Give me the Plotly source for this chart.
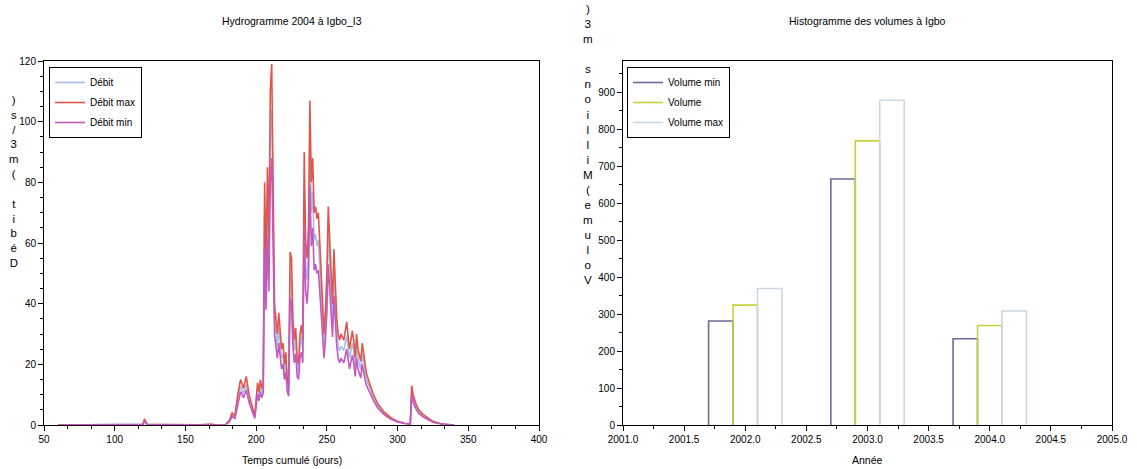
import plotly.graph_objects as go

# ---------------- Data: hydrograph 2004 at Igbo_I3 ----------------
days = [60, 100, 118, 120, 121, 123, 140, 160, 168, 170, 172, 178, 181, 183, 185, 187, 189, 191, 193, 195,
        197, 199, 201, 202, 203, 204, 205, 206, 207, 208, 209, 210, 211, 212, 213, 214, 215, 216, 217, 218,
        219, 220, 221, 222, 223, 224, 225, 226, 227, 228, 229, 230, 231, 232, 233, 234, 235, 236, 237, 238,
        239, 240, 241, 242, 243, 244, 245, 246, 247, 248, 249, 250, 251, 252, 253, 254, 255, 256, 257, 258,
        259, 260, 262, 264, 265, 266, 268, 269, 270, 271, 272, 274, 275, 276, 277, 278, 280, 283, 286, 290,
        295, 300, 305, 309, 310, 311, 313, 315, 318, 321, 325, 330, 335, 340]

debit_max = [0, 0, 0, 0.3, 2.0, 0.2, 0.1, 0.1, 0.3, 0.1, 0, 0, 1.5, 4, 3, 10, 15, 12, 16, 10,
             6, 3, 14, 11, 15, 12, 14, 80, 52, 85, 60, 110, 119, 75, 40, 35, 30, 37, 32, 25,
             27, 20, 24, 15, 13, 57, 55, 35, 28, 32, 22, 20, 30, 33, 28, 90, 60, 55, 65, 107,
             80, 88, 70, 72, 68, 70, 60, 50, 40, 30, 38, 50, 72, 62, 48, 40, 58, 45, 35, 30,
             28, 30, 28, 34, 30, 25, 31, 28, 22, 30, 25, 21, 27, 23, 20, 17, 14, 10, 7, 4.5,
             2.5, 1.2, 0.6, 0.3, 13, 10, 7, 5, 3.5, 2.5, 1.2, 0.5, 0.1, 0]

debit = [0, 0, 0, 0.2, 1.6, 0.2, 0.1, 0.1, 0.2, 0.1, 0, 0, 1.2, 3.4, 2.6, 8.5, 12.8, 10.4, 13.5, 8.6,
         5.2, 2.6, 12, 9.5, 12.8, 10.4, 12, 70, 45, 74, 52, 96, 104, 65, 35, 30.5, 26, 32, 28, 22,
         23.5, 17.5, 21, 13, 11.3, 50, 48, 30.5, 24.5, 28, 19, 17.5, 26, 29, 24.5, 78, 52, 48, 57, 93,
         70, 77, 61, 63, 59, 61, 52, 43.5, 35, 26, 33, 43.5, 63, 54, 42, 35, 50.5, 39, 30.5, 26,
         24.5, 26, 24.5, 29.5, 26, 22, 27, 24.5, 19, 26, 22, 18.3, 23.5, 20, 17.5, 15, 12.5, 9, 6.3, 4,
         2.2, 1.1, 0.5, 0.3, 11.3, 8.7, 6.1, 4.4, 3.1, 2.2, 1, 0.4, 0.1, 0]

debit_min = [0, 0, 0, 0.2, 1.3, 0.1, 0.1, 0.1, 0.2, 0.1, 0, 0, 1.0, 2.8, 2.2, 7.2, 11, 9, 11.5, 7.4,
             4.4, 2.2, 10.2, 8, 11, 9, 10.4, 58, 38, 62, 44, 80, 88, 55, 30, 26, 22, 27, 23.5, 18.5,
             20, 15, 17.5, 11, 9.5, 42, 40, 26, 20.5, 23.5, 16, 15, 22, 24, 20.5, 66, 44, 40, 48, 79,
             59, 65, 51, 53, 50, 51, 44, 37, 29, 22, 28, 37, 53, 45, 35, 29, 42.5, 33, 26, 22,
             20.5, 22, 20.5, 25, 22, 18.5, 23, 20.5, 16, 22, 18.5, 15.5, 20, 17, 15, 13, 11, 8, 5.6, 3.6,
             2, 1, 0.5, 0.2, 9.8, 7.5, 5.3, 3.8, 2.7, 1.9, 0.9, 0.4, 0.1, 0]

# ---------------- Data: volumes at Igbo ----------------
years = [2002, 2003, 2004]
volume_min = [281, 665, 233]
volume = [324, 768, 269]
volume_max = [369, 878, 308]

# ---------------- Styles ----------------
W, H = 1137, 469
FONT = "Liberation Sans"
C_DEBIT = "#a9bfe6"
C_DEBIT_MAX = "#e0574a"
C_DEBIT_MIN = "#c35ac4"
C_VMIN = "#6b6b98"
C_VOL = "#c9d23e"
C_VMAX = "#cbd9e6"
BAR_W = 0.2
OFFSETS = [-0.3, -0.1, 0.1]


def px_x(p):
    return p / W


def px_y(p):
    return 1 - p / H


def step_bars(xs, vals, off):
    sx, sy = [], []
    for x, v in zip(xs, vals):
        a, b = x + off, x + off + BAR_W
        sx += [a, a, b, b, None]
        sy += [0, v, v, 0, None]
    return sx, sy


fig = go.Figure()

# Left: hydrograph
for i, (name, vals, col) in enumerate([("Débit", debit, C_DEBIT),
                                       ("Débit max", debit_max, C_DEBIT_MAX),
                                       ("Débit min", debit_min, C_DEBIT_MIN)]):
    fig.add_trace(go.Scatter(x=days, y=vals, mode="lines", name=name,
                             line=dict(color=col, width=1.6), legendgroup=f"h{i}",
                             xaxis="x", yaxis="y", legend="legend"))

# Right: volume histogram as outlined steps
for i, (name, vals, col, off) in enumerate([("Volume min", volume_min, C_VMIN, OFFSETS[0]),
                                            ("Volume", volume, C_VOL, OFFSETS[1]),
                                            ("Volume max", volume_max, C_VMAX, OFFSETS[2])]):
    sx, sy = step_bars(years, vals, off)
    fig.add_trace(go.Scatter(x=sx, y=sy, mode="lines", name=name,
                             line=dict(color=col, width=1.6), legendgroup=f"v{i}",
                             xaxis="x2", yaxis="y2", legend="legend2"))

L0, L1 = 44, 539
R0, R1 = 623, 1112
TOP, BOT = 61, 425

axis_common = dict(showgrid=False, zeroline=False, showline=True, linecolor="black",
                   linewidth=1, mirror=True, ticks="outside", ticklen=5, tickcolor="black",
                   automargin=False,
                   tickfont=dict(family=FONT, size=10, color="black"))

legend_common = dict(xanchor="left", yanchor="top", bgcolor="white", bordercolor="black",
                     borderwidth=1, font=dict(family=FONT, size=10, color="black"),
                     itemwidth=30, tracegroupgap=1)

fig.update_layout(
    width=W, height=H,
    margin=dict(l=0, r=0, t=0, b=0, autoexpand=False),
    paper_bgcolor="white", plot_bgcolor="white",
    font=dict(family=FONT, size=10, color="black"),
    xaxis=dict(domain=[px_x(L0), px_x(L1)], range=[50, 400], tick0=50, dtick=50, anchor="y",
               minor=dict(dtick=50 / 3, tick0=50, ticks="outside", ticklen=3, tickcolor="black"),
               **axis_common),
    yaxis=dict(domain=[px_y(BOT), px_y(TOP)], range=[0, 120], tick0=0, dtick=20, anchor="x",
               minor=dict(dtick=5, ticks="outside", ticklen=3, tickcolor="black"),
               **axis_common),
    xaxis2=dict(domain=[px_x(R0), px_x(R1)], range=[2001, 2005], tick0=2001, dtick=0.5,
                tickformat=".1f", anchor="y2",
                minor=dict(dtick=0.25, ticks="outside", ticklen=3, tickcolor="black"),
                **axis_common),
    yaxis2=dict(domain=[px_y(BOT), px_y(TOP)], range=[0, 984], tick0=0, dtick=100, anchor="x2",
                minor=dict(dtick=50, ticks="outside", ticklen=3, tickcolor="black"),
                **axis_common),
    legend=dict(x=px_x(49), y=px_y(67), **legend_common),
    legend2=dict(x=px_x(627), y=px_y(67), **legend_common),
    showlegend=True,
)

NB = "\u00a0"
left_ylabel = "<br>".join([")", "s", "/", "3", "m", "(", NB, "t", "i", "b", "é", "D"])
right_ylabel = "<br>".join([")", "3", "m", NB, "s", "n", "o", "i", "l", "l", "i", "M", "(",
                            "e", "m", "u", "l", "o", "V"])

ann = [
    dict(text="Hydrogramme 2004 à Igbo_I3", x=px_x((L0 + L1) / 2), y=px_y(21)),
    dict(text="Histogramme des volumes à Igbo", x=px_x((R0 + R1) / 2), y=px_y(21)),
    dict(text="Temps cumulé (jours)", x=px_x((L0 + L1) / 2), y=px_y(460)),
    dict(text="Année", x=px_x((R0 + R1) / 2), y=px_y(460)),
]
for a in ann:
    fig.add_annotation(xref="paper", yref="paper", showarrow=False, xanchor="center",
                       yanchor="middle", font=dict(family=FONT, size=10.5, color="black"), **a)

fig.add_annotation(text=left_ylabel, xref="paper", yref="paper", x=px_x(14), y=px_y(181),
                   showarrow=False, xanchor="center", yanchor="middle", align="center",
                   font=dict(family=FONT, size=11.4, color="black"))
fig.add_annotation(text=right_ylabel, xref="paper", yref="paper", x=px_x(588), y=px_y(144),
                   showarrow=False, xanchor="center", yanchor="middle", align="center",
                   font=dict(family=FONT, size=11.6, color="black"))

fig.write_html("out.html")
